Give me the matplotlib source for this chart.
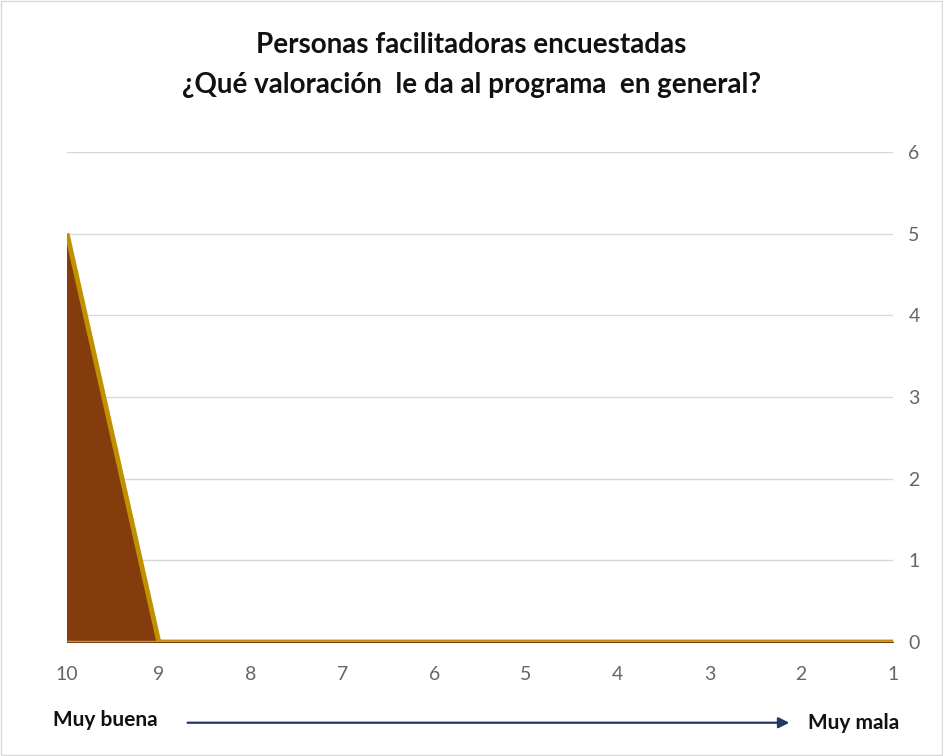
import matplotlib.pyplot as plt
from matplotlib.patches import Rectangle

plt.rcParams['font.family'] = ['Lato', 'DejaVu Sans']

# Valoración (10 = muy buena, 1 = muy mala) y número de personas
valoracion = ['10', '9', '8', '7', '6', '5', '4', '3', '2', '1']
personas = [5, 0, 0, 0, 0, 0, 0, 0, 0, 0]

x = list(range(len(valoracion)))

fig = plt.figure(figsize=(9.43, 7.56), dpi=100)
ax = fig.add_axes([0.0711, 0.1508, 0.8759, 0.6482])

ax.fill_between(x, personas, 0, color='#843C0C', zorder=2)
ax.plot(x, personas, color='#BF9000', linewidth=3.5, zorder=3, solid_capstyle='butt')
ax.axhline(0, color='#B59A55', linewidth=2.5, zorder=3)

ax.set_xlim(0, len(valoracion) - 1)
ax.set_ylim(0, 6)
ax.set_xticks(x)
ax.set_xticklabels(valoracion)
ax.set_yticks(range(0, 7))
ax.yaxis.tick_right()
ax.tick_params(axis='both', length=0, colors='#666666', labelsize=14)
ax.tick_params(axis='x', pad=17)
ax.tick_params(axis='y', pad=11)
ax.grid(axis='y', color='#D9D9D9', linewidth=1, zorder=0)
for s in ax.spines.values():
    s.set_visible(False)

fig.text(0.5, 0.940, 'Personas facilitadoras encuestadas', ha='center', va='center',
         fontsize=20, fontweight='bold', color='#111111')
fig.text(0.5, 0.887, '¿Qué valoración  le da al programa  en general?', ha='center', va='center',
         fontsize=20, fontweight='bold', color='#111111')

fig.text(0.056, 0.048, 'Muy buena', ha='left', va='center', fontsize=15, fontweight='bold', color='#111111')
fig.text(0.857, 0.044, 'Muy mala', ha='left', va='center', fontsize=15, fontweight='bold', color='#111111')
fig.add_artist(plt.Annotation('', xy=(0.84, 0.044), xytext=(0.196, 0.044),
                              xycoords='figure fraction', textcoords='figure fraction',
                              arrowprops=dict(arrowstyle='-|>', color='#1F3864', lw=1.6,
                                              mutation_scale=16)))

fig.add_artist(Rectangle((0.001, 0.001), 0.998, 0.998, transform=fig.transFigure,
                         fill=False, edgecolor='#D9D9D9', linewidth=1))

fig.savefig('out.png', dpi=100)
